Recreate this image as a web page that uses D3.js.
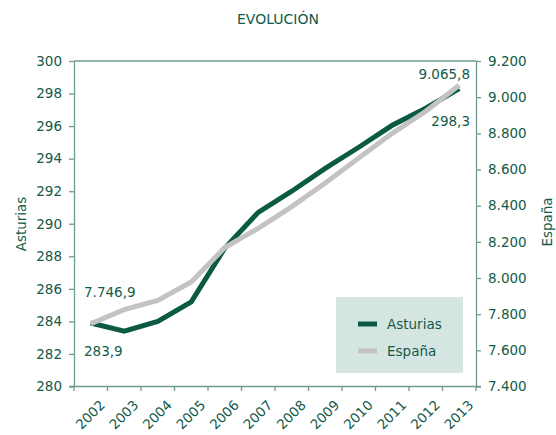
<!DOCTYPE html>
<html>
<head>
<meta charset="utf-8">
<script src="https://cdn.jsdelivr.net/npm/d3@7"></script>
<style>
  body { margin: 0; background: #fff; }
  text { font-family: "DejaVu Sans", sans-serif; fill: #135a48; }
</style>
</head>
<body>
<svg id="chart" width="556" height="435"></svg>
<script>
const years = ['2002', '2003', '2004', '2005', '2006', '2007', '2008', '2009', '2010', '2011', '2012', '2013'];
const asturias = [283.9, 283.4, 284.0, 285.2, 288.5, 290.7, 292.0, 293.4, 294.7, 296.05, 297.1, 298.3];
const espana = [7746.9, 7825, 7876, 7978, 8168, 8274, 8395, 8525, 8663, 8800, 8922, 9065.8];
const leftTicks = [280, 282, 284, 286, 288, 290, 292, 294, 296, 298, 300];
const rightTicks = [7400, 7600, 7800, 8000, 8200, 8400, 8600, 8800, 9000, 9200];

const dark = '#0b5a43', grey = '#c3c3c5', axisCol = '#6f9b8f';
const plotLeft = 74, plotRight = 476, plotTop = 61, plotBottom = 386.5;

let svg = d3.select('#chart');

let x = d3.scaleBand().domain(years).range([plotLeft, plotRight]);
let yL = d3.scaleLinear().domain([280, 300]).range([plotBottom, plotTop]);
let yR = d3.scaleLinear().domain([7400, 9200]).range([plotBottom, plotTop]);

// numbers in spanish style
const esLocale = d3.formatLocale({decimal: ',', thousands: '.', grouping: [3], currency: ['', '€']});
const fmtR = esLocale.format(',.0f');
const fmtDec = esLocale.format(',.1f');

svg.append('text').attr('x', 278).attr('y', 24).attr('text-anchor', 'middle')
  .style('font-size', '14px').text('EVOLUCIÓN');

// axes
let gL = svg.append('g').attr('transform', 'translate(' + plotLeft + ',0)')
  .call(d3.axisLeft(yL).tickValues(leftTicks).tickSize(5).tickPadding(7).tickSizeOuter(0));
let gR = svg.append('g').attr('transform', 'translate(' + plotRight + ',0)')
  .call(d3.axisRight(yR).tickValues(rightTicks).tickFormat(fmtR).tickSize(5).tickPadding(7).tickSizeOuter(0));
[gL, gR].forEach(function(g) {
  g.selectAll('path, line').attr('stroke', axisCol).attr('stroke-width', 1.3);
  g.selectAll('text').style('font-size', '13.5px').style('font-family', '"DejaVu Sans", sans-serif').attr('fill', '#135a48');
});

// top and bottom frame lines
svg.append('line').attr('x1', plotLeft).attr('x2', plotRight).attr('y1', plotTop).attr('y2', plotTop)
  .attr('stroke', axisCol).attr('stroke-width', 1.3);
svg.append('line').attr('x1', plotLeft - 5).attr('x2', plotRight + 5).attr('y1', plotBottom).attr('y2', plotBottom)
  .attr('stroke', axisCol).attr('stroke-width', 1.3);

// bottom ticks at band edges
let edges = years.map(d => x(d)).concat([plotRight]);
svg.selectAll('.xtick').data(edges).enter().append('line')
  .attr('x1', d => d).attr('x2', d => d).attr('y1', plotBottom).attr('y2', plotBottom + 4.5)
  .attr('stroke', axisCol).attr('stroke-width', 1.3);

svg.selectAll('.xlab').data(years).enter().append('text')
  .attr('text-anchor', 'end')
  .attr('transform', d => 'translate(' + (x(d) + x.bandwidth() / 2 + 15) + ',' + 406 + ') rotate(-45)')
  .style('font-size', '13.5px').text(d => d);

// axis titles
svg.append('text').attr('transform', 'translate(26,224) rotate(-90)').attr('text-anchor', 'middle')
  .style('font-size', '13.5px').text('Asturias');
svg.append('text').attr('transform', 'translate(552,222) rotate(-90)').attr('text-anchor', 'middle')
  .style('font-size', '13.5px').text('España');

// lines
let cx = d => x(d) + x.bandwidth() / 2;
let lineL = d3.line().x((d, i) => cx(years[i])).y(d => yL(d));
let lineR = d3.line().x((d, i) => cx(years[i])).y(d => yR(d));

svg.append('path').datum(asturias).attr('d', lineL)
  .attr('fill', 'none').attr('stroke', dark).attr('stroke-width', 5);
svg.append('path').datum(espana).attr('d', lineR)
  .attr('fill', 'none').attr('stroke', grey).attr('stroke-width', 5);

// value labels
svg.append('text').attr('x', 84).attr('y', 297).style('font-size', '13.5px').text(fmtDec(espana[0]));
svg.append('text').attr('x', 84).attr('y', 356).style('font-size', '13.5px').text(fmtDec(asturias[0]));
svg.append('text').attr('x', 470).attr('y', 79).attr('text-anchor', 'end').style('font-size', '13.5px').text(fmtDec(espana[11]));
svg.append('text').attr('x', 470).attr('y', 126).attr('text-anchor', 'end').style('font-size', '13.5px').text(fmtDec(asturias[11]));

// legend
let leg = svg.append('g');
leg.append('rect').attr('x', 336).attr('y', 297).attr('width', 127).attr('height', 76).attr('fill', '#d5e5e2');
let items = [['Asturias', dark], ['España', grey]];
leg.selectAll('.li').data(items).enter().append('line')
  .attr('x1', 358).attr('x2', 377).attr('y1', (d, i) => 324 + i * 27).attr('y2', (d, i) => 324 + i * 27)
  .attr('stroke', d => d[1]).attr('stroke-width', 5);
leg.selectAll('.lt').data(items).enter().append('text')
  .attr('x', 387).attr('y', (d, i) => 329 + i * 27)
  .style('font-size', '13.5px').text(d => d[0]);
</script>
</body>
</html>
